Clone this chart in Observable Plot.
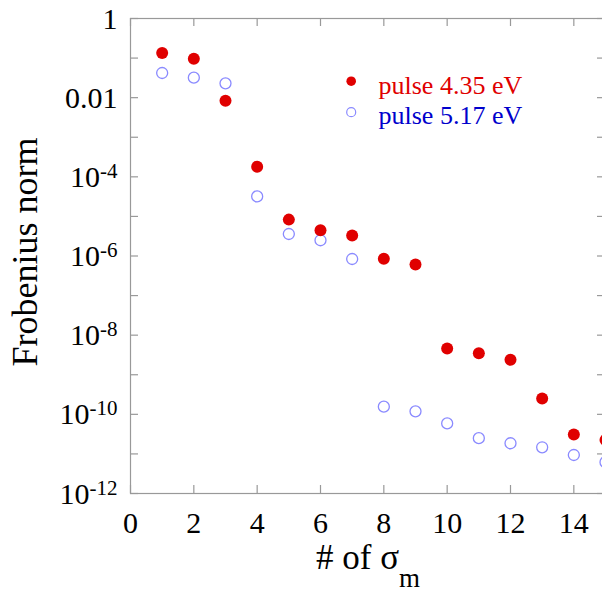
<!DOCTYPE html>
<html>
<head>
<meta charset="utf-8">
<script src="https://cdn.jsdelivr.net/npm/d3@7"></script>
<script src="https://cdn.jsdelivr.net/npm/@observablehq/plot@0.6"></script>
<style>
  html, body { margin: 0; padding: 0; background: #fff; overflow: hidden; }
  #chart svg { display: block; }
</style>
</head>
<body>
<div id="chart"></div>
<script>
// ---- data ----
const sigmaIndex = [1, 2, 3, 4, 5, 6, 7, 8, 9, 10, 11, 12, 13, 14, 15];
const pulse435 = [0.134, 0.096, 0.0084, 1.8e-4, 8.3e-6, 4.5e-6, 3.3e-6, 8.5e-7, 6.1e-7, 4.6e-9, 3.5e-9, 2.4e-9, 2.5e-10, 3.1e-11, 2.26e-11];
const pulse517 = [0.042, 0.032, 0.023, 3.2e-5, 3.6e-6, 2.5e-6, 8.4e-7, 1.56e-10, 1.19e-10, 5.9e-11, 2.5e-11, 1.86e-11, 1.47e-11, 9.4e-12, 6.2e-12];
const seriesNames = ["pulse 4.35 eV", "pulse 5.17 eV"];
const xTicks = [0, 2, 4, 6, 8, 10, 12, 14];
const yTicks = [1, 1e-1, 1e-2, 1e-3, 1e-4, 1e-5, 1e-6, 1e-7, 1e-8, 1e-9, 1e-10, 1e-11, 1e-12];
const yLabelValues = [1, 1e-2, 1e-4, 1e-6, 1e-8, 1e-10, 1e-12];
const yLabelBase = ["1", "0.01", "10", "10", "10", "10", "10"];
const yLabelExp = ["", "", "-4", "-6", "-8", "-10", "-12"];
const xTitle = "# of σ";
const xTitleSub = "m";
const yTitle = "Frobenius norm";

// ---- layout / style ----
const W = 602, H = 594;
const mL = 130, mR = -3, mT = 18, mB = 101;
const plotW = W - mL - mR, plotH = H - mT - mB;
const tickLen = 8;
const axisColor = "#999";
const red = "#e00000", blueText = "#0000cc", blueMarker = "#8a8aff";
const font = "Liberation Serif, Times New Roman, serif";
const SUP = "\u2191", SUB = "\u2193"; // separators replaced by tspans below

const rows435 = sigmaIndex.map((x, i) => ({x, v: pulse435[i]}));
const rows517 = sigmaIndex.map((x, i) => ({x, v: pulse517[i]}));
const yLabels = yLabelValues.map((v, i) => ({v, base: yLabelBase[i], exp: yLabelExp[i]}));

const chart = Plot.plot({
  width: W, height: H,
  marginLeft: mL, marginRight: mR, marginTop: mT, marginBottom: mB,
  style: {fontFamily: font, background: "#fff", overflow: "hidden"},
  x: {domain: [0, 15], axis: null},
  y: {type: "log", domain: [1e-12, 1], axis: null},
  marks: [
    Plot.frame({stroke: axisColor, strokeWidth: 1.2}),
    // inward ticks
    Plot.tickX(xTicks, {x: d => d, insetTop: plotH - tickLen, stroke: axisColor, strokeWidth: 1.2}),
    Plot.tickX(xTicks, {x: d => d, insetBottom: plotH - tickLen, stroke: axisColor, strokeWidth: 1.2}),
    Plot.tickY(yTicks, {y: d => d, insetRight: plotW - tickLen, stroke: axisColor, strokeWidth: 1.2}),
    Plot.tickY(yTicks, {y: d => d, insetLeft: plotW - tickLen, stroke: axisColor, strokeWidth: 1.2}),
    // x tick labels
    Plot.text(xTicks, {x: d => d, frameAnchor: "bottom", dy: 39, lineAnchor: "bottom", textAnchor: "middle",
      text: d => String(d), fontSize: 30, fontFamily: font, fill: "#000"}),
    // y tick labels
    Plot.text(yLabels, {y: "v", frameAnchor: "left", dx: -13, dy: 10, lineAnchor: "bottom", textAnchor: "end",
      text: d => d.exp ? d.base + SUP + d.exp : d.base, fontSize: 30, fontFamily: font, fill: "#000"}),
    // axis titles
    Plot.text([xTitle], {frameAnchor: "bottom", dy: 75, lineAnchor: "bottom", textAnchor: "middle",
      text: d => d + SUB + xTitleSub, fontSize: 35, fontFamily: font, fill: "#000"}),
    Plot.text([yTitle], {frameAnchor: "left", dx: -(mL - 36.5), dy: -4, rotate: -90, lineAnchor: "bottom",
      textAnchor: "middle", text: d => d, fontSize: 36, fontFamily: font, fill: "#000"}),
    // data
    Plot.dot(rows517, {x: "x", y: "v", r: 5.5, stroke: blueMarker, strokeWidth: 1.3, fill: "none"}),
    Plot.dot(rows435, {x: "x", y: "v", r: 6, fill: red, stroke: "none"}),
    // legend
    Plot.dot([seriesNames[0]], {frameAnchor: "top-left", dx: 220.7, dy: 62.7, r: 4.8, fill: red, stroke: "none"}),
    Plot.dot([seriesNames[1]], {frameAnchor: "top-left", dx: 220.7, dy: 93.7, r: 4.5, fill: "none", stroke: blueMarker, strokeWidth: 1.2}),
    Plot.text([seriesNames[0]], {frameAnchor: "top-left", dx: 248, dy: 75, lineAnchor: "bottom", textAnchor: "start",
      text: d => d, fill: red, fontSize: 26, fontFamily: font}),
    Plot.text([seriesNames[1]], {frameAnchor: "top-left", dx: 248, dy: 105, lineAnchor: "bottom", textAnchor: "start",
      text: d => d, fill: blueText, fontSize: 26, fontFamily: font})
  ]
});

// superscripts / subscripts as real tspans
d3.select(chart).selectAll("text").each(function() {
  const s = this.textContent;
  if (s.includes(SUP)) {
    const [base, exp] = s.split(SUP);
    const t = d3.select(this);
    t.text(base);
    t.append("tspan").attr("font-size", 21).attr("dy", -9).text(exp);
  } else if (s.includes(SUB)) {
    const [base, sub] = s.split(SUB);
    const t = d3.select(this);
    t.text(base);
    t.append("tspan").attr("font-size", 27).attr("dy", 18).text(sub);
  }
});

document.getElementById("chart").appendChild(chart);
</script>
</body>
</html>
